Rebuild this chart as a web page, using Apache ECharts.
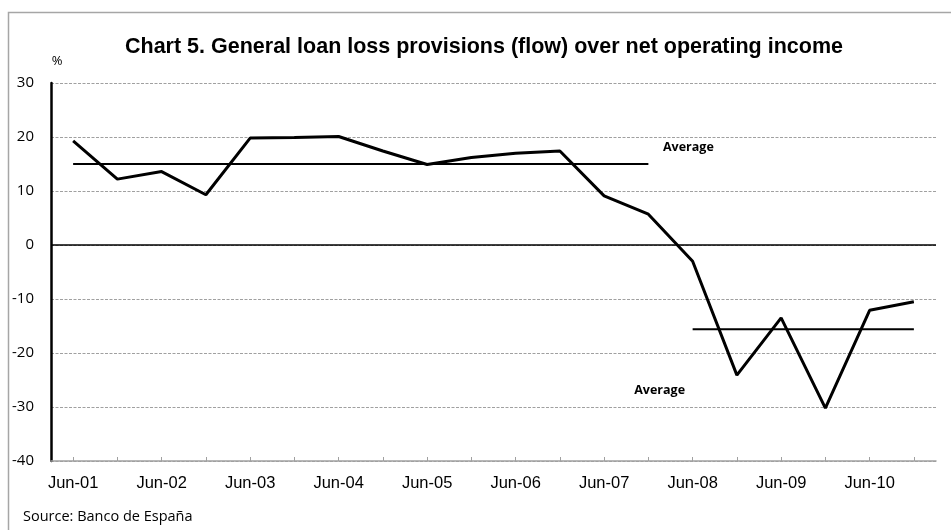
<!DOCTYPE html>
<html><head><meta charset="utf-8">
<script src="https://cdn.jsdelivr.net/npm/echarts@6/dist/echarts.min.js"></script>
<style>html,body{margin:0;padding:0;background:#fff}#c{width:951px;height:530px}</style>
</head><body><div id="c"></div>
<script>
const categories = ['Jun-01','Dec-01','Jun-02','Dec-02','Jun-03','Dec-03','Jun-04','Dec-04','Jun-05','Dec-05',
  'Jun-06','Dec-06','Jun-07','Dec-07','Jun-08','Dec-08','Jun-09','Dec-09','Jun-10','Dec-10'];
const provisions = [19.3,12.2,13.6,9.3,19.8,19.9,20.1,17.4,14.9,16.2,17.0,17.4,9.1,5.7,-3.0,-24.1,-13.5,-30.2,-12.1,-10.5];
const average1 = 15.0;     // Jun-01 .. Dec-07
const average1Range = [0, 13];
const average2 = -15.6;    // Jun-08 .. Dec-10
const average2Range = [14, 19];
const yTicks = {min: -40, max: 30, interval: 10};
const titleText = 'Chart 5. General loan loss provisions (flow) over net operating income';
const sourceText = 'Source: Banco de España';
const unitText = '%';
const avgLabel = 'Average';

function avgData(val, range) {
  return categories.map((c, i) => (i < range[0] || i > range[1]) ? null : val);
}

const baseGraphic = [
  {type: 'rect', shape: {x: 8.5, y: 12.5, width: 960, height: 540}, style: {fill: 'none', stroke: '#a6a6a6', lineWidth: 1.5}, silent: true},
  {type: 'text', x: 484, y: 47, style: {text: titleText, align: 'center', verticalAlign: 'middle', font: 'bold 21.5px "Liberation Sans", Arial', fill: '#000'}},
  {type: 'text', x: 57, y: 61, style: {text: unitText, align: 'center', verticalAlign: 'middle', font: '13px "Open Sans"', fill: '#000'}},
  {type: 'text', x: 23, y: 517, style: {text: sourceText, align: 'left', verticalAlign: 'middle', font: '14.5px "Open Sans"', fill: '#000'}}
];

const chart = echarts.init(document.getElementById('c'), null, {renderer: 'canvas'});
chart.setOption({
  animation: false,
  backgroundColor: '#fff',
  grid: {left: 51, right: 15, top: 83, bottom: 69, containLabel: false},
  graphic: baseGraphic,
  xAxis: {
    type: 'category', data: categories, boundaryGap: true,
    axisLine: {show: true, onZero: false, lineStyle: {color: '#a0a0a0', width: 1.5}},
    axisTick: {show: true, inside: true, length: 4, alignWithLabel: true, interval: 0, lineStyle: {color: '#a0a0a0'}},
    axisLabel: {interval: 1, margin: 14, fontFamily: '"Liberation Sans", Arial', fontSize: 16.5, color: '#000'},
    splitLine: {show: false}
  },
  yAxis: {
    type: 'value', min: yTicks.min, max: yTicks.max, interval: yTicks.interval,
    axisLine: {show: true, onZero: false, lineStyle: {color: '#000', width: 2.5}},
    axisTick: {show: false},
    axisLabel: {margin: 17, fontFamily: 'Open Sans', fontSize: 15, color: '#000'},
    splitLine: {show: true, lineStyle: {color: '#a0a0a0', type: [3, 1.5], width: 1}}
  },
  series: [
    {
      type: 'line', data: provisions, symbol: 'none', z: 5,
      lineStyle: {color: '#000', width: 3},
      markLine: {silent: true, symbol: 'none', label: {show: false}, lineStyle: {color: '#000', width: 1.5, type: 'solid'}, data: [{yAxis: 0}]}
    },
    {type: 'line', data: avgData(average1, average1Range), symbol: 'none', connectNulls: false, lineStyle: {color: '#000', width: 2}, z: 4},
    {type: 'line', data: avgData(average2, average2Range), symbol: 'none', connectNulls: false, lineStyle: {color: '#000', width: 2}, z: 4}
  ]
});

// Place the "Average" labels relative to the average lines' end points via the chart's own scales
const p1 = chart.convertToPixel({gridIndex: 0}, [average1Range[1], average1]);
const p2 = chart.convertToPixel({gridIndex: 0}, [average2Range[0], average2]);
const lblFont = 'bold 12.5px "Open Sans"';
chart.setOption({
  graphic: baseGraphic.concat([
    {type: 'text', x: p1[0] + 40, y: p1[1] - 17, style: {text: avgLabel, align: 'center', verticalAlign: 'middle', font: lblFont, fill: '#000'}},
    {type: 'text', x: p2[0] - 33, y: p2[1] + 61, style: {text: avgLabel, align: 'center', verticalAlign: 'middle', font: lblFont, fill: '#000'}}
  ])
});
</script></body></html>
